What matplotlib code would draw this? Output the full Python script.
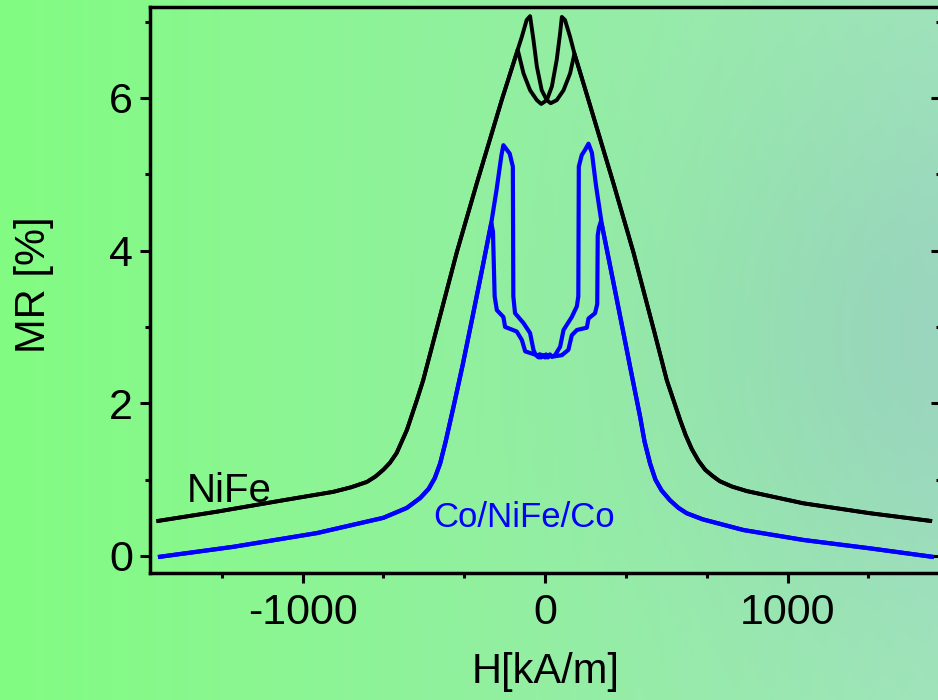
import numpy as np
import matplotlib.pyplot as plt
from matplotlib.ticker import MultipleLocator

plt.rcParams["font.family"] = ["Liberation Sans", "DejaVu Sans"]
plt.rcParams["axes.unicode_minus"] = False

# NiFe (black): flanks are shared by both sweep branches
nife_left_H = [-1595, -1354, -1080, -874, -800, -735, -700, -667, -640, -612, -570, -529, -503, -450, -364, -280, -179]
nife_left_MR = [0.46, 0.58, 0.73, 0.84, 0.90, 0.97, 1.04, 1.13, 1.22, 1.35, 1.65, 2.04, 2.30, 2.94, 3.98, 4.90, 5.97]
nife_right_H = [179, 280, 364, 450, 502, 557, 580, 605, 632, 660, 690, 720, 770, 832, 1065, 1340, 1588]
nife_right_MR = [5.97, 4.90, 3.98, 2.94, 2.30, 1.78, 1.58, 1.40, 1.25, 1.13, 1.05, 0.98, 0.91, 0.85, 0.69, 0.56, 0.46]
nife_up_H = [-113, -89, -62, -34, -16, 7, 28, 48, 62, 69, 82, 103, 121]
nife_up_MR = [6.63, 6.32, 6.10, 5.97, 5.92, 5.97, 6.15, 6.50, 6.85, 7.06, 7.02, 6.80, 6.58]
nife_down_H = [-113, -96, -76, -62, -48, -34, -14, 7, 23, 48, 76, 103, 121]
nife_down_MR = [6.63, 6.80, 7.02, 7.07, 6.76, 6.41, 6.10, 5.97, 5.93, 5.97, 6.10, 6.32, 6.58]

# Co/NiFe/Co (blue)
co_left_H = [-1588, -1286, -941, -667, -570, -515, -480, -455, -433, -410, -378, -340, -300, -260]
co_left_MR = [-0.01, 0.12, 0.30, 0.50, 0.63, 0.76, 0.88, 1.02, 1.21, 1.50, 1.95, 2.50, 3.12, 3.75]
co_right_H = [234, 280, 320, 351, 392, 410, 433, 455, 480, 515, 550, 584, 650, 818, 1065, 1340, 1595]
co_right_MR = [4.34, 3.61, 2.97, 2.47, 1.82, 1.50, 1.21, 1.00, 0.86, 0.73, 0.63, 0.56, 0.48, 0.34, 0.21, 0.10, -0.01]
co_up_H = [-222, -215, -208, -199, -172, -165, -117, -96, -82, -34, -26, -19, -12, -5, 0, 6,
           13, 20, 28, 41, 62, 76, 110, 131, 137, 139, 151, 165, 179, 193, 210, 234]
co_up_MR = [4.36, 4.25, 3.40, 3.22, 3.13, 3.00, 2.94, 2.83, 2.68, 2.63, 2.60, 2.64, 2.61, 2.63, 2.60, 2.63,
            2.61, 2.64, 2.61, 2.63, 2.74, 2.96, 3.13, 3.27, 3.40, 5.10, 5.25, 5.32, 5.40, 5.28, 4.85, 4.34]
co_down_H = [-222, -200, -180, -172, -160, -146, -133, -131, -124, -89, -62, -48, -40, -31, -24, -17,
             -10, -3, 4, 11, 18, 28, 69, 96, 110, 131, 172, 179, 206, 215, 217, 222, 230, 234]
co_down_MR = [4.36, 4.80, 5.25, 5.38, 5.33, 5.27, 5.10, 3.40, 3.18, 3.05, 2.92, 2.70, 2.64, 2.61, 2.64, 2.60,
              2.63, 2.61, 2.64, 2.60, 2.63, 2.61, 2.63, 2.70, 2.89, 2.96, 2.99, 3.11, 3.18, 3.30, 4.20, 4.30, 4.38, 4.34]

fig = plt.figure(figsize=(9.38, 7.0), dpi=100)

# gradient background
bg = fig.add_axes([0, 0, 1, 1], zorder=-1)
bg.axis("off")
yy, xx = np.mgrid[0:1:200j, 0:1:300j]
c_left = np.array([130, 252, 130]) / 255
c_right = np.array([160, 230, 186]) / 255
img = c_left[None, None, :] * (1 - xx[..., None]) + c_right[None, None, :] * xx[..., None]
blob = np.exp(-((xx - 0.98) ** 2 / 0.08 + (yy - 0.48) ** 2 / 0.15))
img = img - blob[..., None] * np.array([6, 16, -4]) / 255
bg.imshow(np.clip(img, 0, 1), aspect="auto", extent=[0, 1, 0, 1], origin="upper")

ax = fig.add_axes([0.16, 0.1814, 0.8433, 0.8086])
ax.set_facecolor("none")

nife_up = (nife_left_H + nife_up_H + nife_right_H, nife_left_MR + nife_up_MR + nife_right_MR)
nife_down = (nife_left_H + nife_down_H + nife_right_H, nife_left_MR + nife_down_MR + nife_right_MR)
co_up = (co_left_H + co_up_H + co_right_H[1:], co_left_MR + co_up_MR + co_right_MR[1:])
co_down = (co_left_H + co_down_H + co_right_H[1:], co_left_MR + co_down_MR + co_right_MR[1:])

for h, mr in (nife_up, nife_down):
    ax.plot(h, mr, color="black", lw=2.8, solid_joinstyle="round")
for h, mr in (co_up, co_down):
    ax.plot(h, mr, color="#0000ff", lw=3.0, solid_joinstyle="round")

ax.text(-1478, 0.71, "NiFe", fontsize=29, color="black", ha="left", va="baseline")
ax.text(-462, 0.38, "Co/NiFe/Co", fontsize=25, color="#0000ff", ha="left", va="baseline")

ax.set_xlim(-1629, 1633)
ax.set_ylim(-0.223, 7.19)

ax.xaxis.set_major_locator(MultipleLocator(1000))
ax.xaxis.set_minor_locator(MultipleLocator(1000 / 3))
ax.yaxis.set_major_locator(MultipleLocator(2))
ax.yaxis.set_minor_locator(MultipleLocator(1))
ax.tick_params(which="major", length=7.2, width=2.2, labelsize=31, direction="out")
ax.tick_params(which="minor", length=3.6, width=2.2, direction="out")
ax.tick_params(axis="x", pad=7)
ax.tick_params(axis="y", pad=5)

sec = ax.secondary_yaxis("right")
sec.yaxis.set_major_locator(MultipleLocator(2))
sec.yaxis.set_minor_locator(MultipleLocator(1))
sec.tick_params(which="major", length=7.2, width=2.2, direction="in", labelright=False)
sec.tick_params(which="minor", length=3.6, width=2.2, direction="in")

for s in ax.spines.values():
    s.set_linewidth(2.5)

ax.set_xlabel("H[kA/m]", fontsize=30)
ax.set_ylabel("MR [%]", fontsize=30)
ax.xaxis.set_label_coords(0.5, -0.14)
ax.yaxis.set_label_coords(-0.122, 0.51)

fig.savefig("out.png", dpi=100)
